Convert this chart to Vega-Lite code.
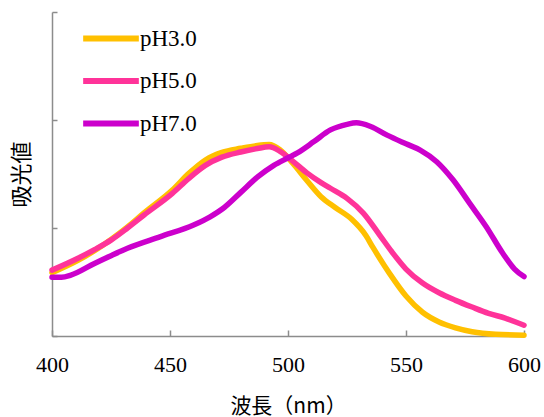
{
  "$schema": "https://vega.github.io/schema/vega-lite/v6.json",
  "width": 472,
  "height": 324,
  "autosize": {"type": "none"},
  "padding": {"left": 52, "top": 12, "right": 20, "bottom": 81},
  "background": "white",
  "config": {"view": {"stroke": null}},
  "data": {"values": [
    {"wl": 400, "ph": "pH3.0", "v": 0.293}, {"wl": 411, "ph": "pH3.0", "v": 0.35}, {"wl": 418, "ph": "pH3.0", "v": 0.395}, {"wl": 425, "ph": "pH3.0", "v": 0.447}, {"wl": 432, "ph": "pH3.0", "v": 0.505}, {"wl": 439, "ph": "pH3.0", "v": 0.57}, {"wl": 451, "ph": "pH3.0", "v": 0.676}, {"wl": 458, "ph": "pH3.0", "v": 0.753}, {"wl": 465, "ph": "pH3.0", "v": 0.815}, {"wl": 472, "ph": "pH3.0", "v": 0.85}, {"wl": 480, "ph": "pH3.0", "v": 0.869}, {"wl": 487, "ph": "pH3.0", "v": 0.882}, {"wl": 492, "ph": "pH3.0", "v": 0.886}, {"wl": 496.6, "ph": "pH3.0", "v": 0.862}, {"wl": 502, "ph": "pH3.0", "v": 0.8}, {"wl": 508, "ph": "pH3.0", "v": 0.72}, {"wl": 514, "ph": "pH3.0", "v": 0.645}, {"wl": 520, "ph": "pH3.0", "v": 0.595}, {"wl": 527, "ph": "pH3.0", "v": 0.54}, {"wl": 533, "ph": "pH3.0", "v": 0.465}, {"wl": 536, "ph": "pH3.0", "v": 0.41}, {"wl": 543, "ph": "pH3.0", "v": 0.29}, {"wl": 550, "ph": "pH3.0", "v": 0.185}, {"wl": 557, "ph": "pH3.0", "v": 0.11}, {"wl": 564, "ph": "pH3.0", "v": 0.065}, {"wl": 571, "ph": "pH3.0", "v": 0.038}, {"wl": 578, "ph": "pH3.0", "v": 0.02}, {"wl": 588, "ph": "pH3.0", "v": 0.008}, {"wl": 600, "ph": "pH3.0", "v": 0.004},
    {"wl": 400, "ph": "pH5.0", "v": 0.305}, {"wl": 411, "ph": "pH5.0", "v": 0.36}, {"wl": 418, "ph": "pH5.0", "v": 0.4}, {"wl": 425, "ph": "pH5.0", "v": 0.444}, {"wl": 432, "ph": "pH5.0", "v": 0.5}, {"wl": 439, "ph": "pH5.0", "v": 0.56}, {"wl": 451, "ph": "pH5.0", "v": 0.66}, {"wl": 458, "ph": "pH5.0", "v": 0.73}, {"wl": 465, "ph": "pH5.0", "v": 0.79}, {"wl": 472, "ph": "pH5.0", "v": 0.828}, {"wl": 480, "ph": "pH5.0", "v": 0.852}, {"wl": 487, "ph": "pH5.0", "v": 0.868}, {"wl": 492, "ph": "pH5.0", "v": 0.876}, {"wl": 496.6, "ph": "pH5.0", "v": 0.855}, {"wl": 502, "ph": "pH5.0", "v": 0.81}, {"wl": 508, "ph": "pH5.0", "v": 0.755}, {"wl": 514, "ph": "pH5.0", "v": 0.71}, {"wl": 518, "ph": "pH5.0", "v": 0.684}, {"wl": 525, "ph": "pH5.0", "v": 0.637}, {"wl": 532, "ph": "pH5.0", "v": 0.568}, {"wl": 539, "ph": "pH5.0", "v": 0.465}, {"wl": 544, "ph": "pH5.0", "v": 0.39}, {"wl": 550, "ph": "pH5.0", "v": 0.31}, {"wl": 557, "ph": "pH5.0", "v": 0.245}, {"wl": 564, "ph": "pH5.0", "v": 0.2}, {"wl": 571, "ph": "pH5.0", "v": 0.165}, {"wl": 578, "ph": "pH5.0", "v": 0.134}, {"wl": 585, "ph": "pH5.0", "v": 0.105}, {"wl": 592, "ph": "pH5.0", "v": 0.083}, {"wl": 600, "ph": "pH5.0", "v": 0.05},
    {"wl": 400, "ph": "pH7.0", "v": 0.272}, {"wl": 404, "ph": "pH7.0", "v": 0.272}, {"wl": 408, "ph": "pH7.0", "v": 0.282}, {"wl": 418, "ph": "pH7.0", "v": 0.336}, {"wl": 425, "ph": "pH7.0", "v": 0.372}, {"wl": 432, "ph": "pH7.0", "v": 0.406}, {"wl": 446, "ph": "pH7.0", "v": 0.46}, {"wl": 460, "ph": "pH7.0", "v": 0.514}, {"wl": 467, "ph": "pH7.0", "v": 0.552}, {"wl": 473, "ph": "pH7.0", "v": 0.595}, {"wl": 480, "ph": "pH7.0", "v": 0.665}, {"wl": 487, "ph": "pH7.0", "v": 0.735}, {"wl": 494, "ph": "pH7.0", "v": 0.79}, {"wl": 500, "ph": "pH7.0", "v": 0.825}, {"wl": 504, "ph": "pH7.0", "v": 0.848}, {"wl": 511, "ph": "pH7.0", "v": 0.9}, {"wl": 518, "ph": "pH7.0", "v": 0.954}, {"wl": 525, "ph": "pH7.0", "v": 0.98}, {"wl": 529, "ph": "pH7.0", "v": 0.987}, {"wl": 535, "ph": "pH7.0", "v": 0.97}, {"wl": 542, "ph": "pH7.0", "v": 0.93}, {"wl": 550, "ph": "pH7.0", "v": 0.89}, {"wl": 556, "ph": "pH7.0", "v": 0.861}, {"wl": 563, "ph": "pH7.0", "v": 0.807}, {"wl": 570, "ph": "pH7.0", "v": 0.722}, {"wl": 577, "ph": "pH7.0", "v": 0.614}, {"wl": 584, "ph": "pH7.0", "v": 0.506}, {"wl": 591, "ph": "pH7.0", "v": 0.383}, {"wl": 596, "ph": "pH7.0", "v": 0.31}, {"wl": 600, "ph": "pH7.0", "v": 0.275}
  ]},
  "mark": {"type": "line", "interpolate": "monotone", "strokeWidth": 5.5, "strokeCap": "round", "strokeJoin": "round"},
  "encoding": {
    "x": {"field": "wl", "type": "quantitative", "scale": {"domain": [400, 600], "nice": false, "zero": false},
      "axis": {"values": [400, 450, 500, 550, 600], "grid": false, "labelFlush": false, "title": "波長（nm）", "titleFont": "Noto Sans CJK JP", "titleFontWeight": "normal", "titleFontSize": 21, "titleColor": "black", "titlePadding": 20,
        "labelFont": "Liberation Serif", "labelFontSize": 22, "labelColor": "black", "labelPadding": 24, "tickSize": -6, "tickColor": "#8c8c8c", "tickWidth": 1.5, "domainColor": "#8c8c8c", "domainWidth": 1.5}},
    "y": {"field": "v", "type": "quantitative", "scale": {"domain": [0, 1.5], "nice": false},
      "axis": {"values": [0, 0.5, 1, 1.5], "labels": false, "grid": false, "title": "吸光値", "titleFont": "Noto Sans CJK JP", "titleFontWeight": "normal", "titleFontSize": 22, "titleColor": "black", "titlePadding": 18,
        "tickSize": -5, "tickColor": "#8c8c8c", "tickWidth": 1.5, "domainColor": "#8c8c8c", "domainWidth": 1.5}},
    "color": {"field": "ph", "type": "nominal", "scale": {"domain": ["pH3.0", "pH5.0", "pH7.0"], "range": ["#FFC000", "#FF3399", "#CC00CC"]},
      "legend": {"title": null, "orient": "none", "legendX": 28, "legendY": 16.5, "padding": 0, "symbolType": "stroke", "symbolSize": 3100, "symbolStrokeWidth": 6, "clipHeight": 20, "rowPadding": 19.5, "labelFont": "Liberation Serif", "labelFontSize": 23, "labelColor": "black", "labelOffset": -2}}
  }
}
